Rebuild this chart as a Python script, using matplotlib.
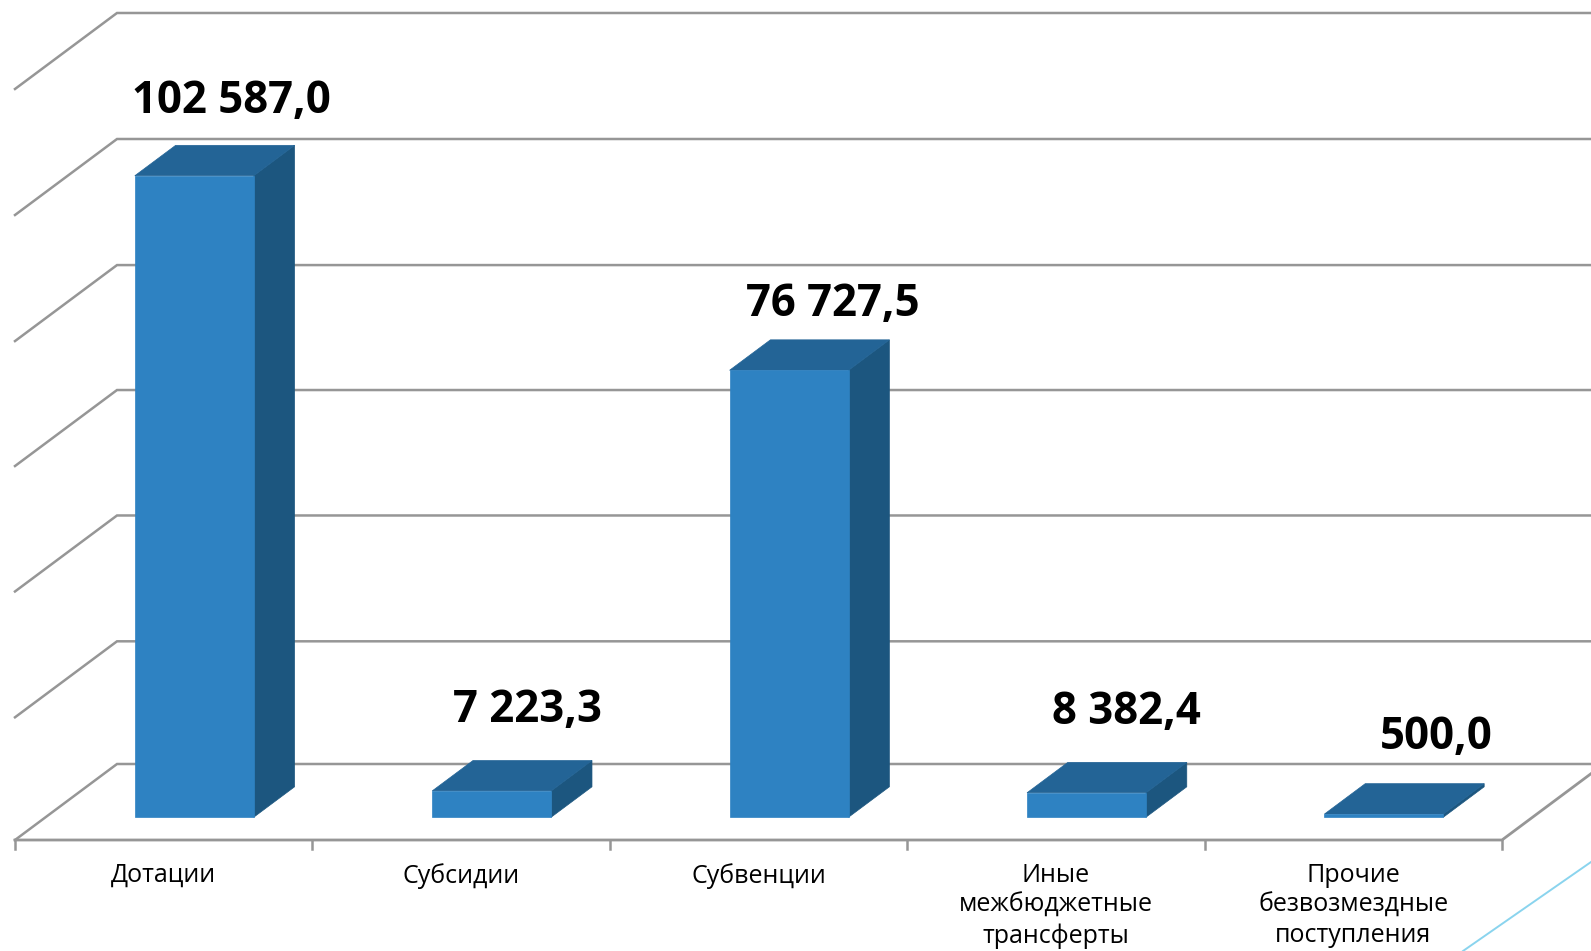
import matplotlib.pyplot as plt
from matplotlib.lines import Line2D

categories = ["Дотации", "Субсидии", "Субвенции", "Иные\nмежбюджетные\nтрансферты",
              "Прочие\nбезвозмездные\nпоступления"]
value_labels = ["102 587,0", "7 223,3", "76 727,5", "8 382,4", "500,0"]
# высоты столбцов (подписи на оригинале им не пропорциональны)
heights = [102470, 4200, 71400, 3900, 500]
grid_values = [0, 19600, 39700, 59740, 79700, 99840, 119970]

W, H = 1591, 951
PX_X = 297.4          # пикселей на одну категорию
PX_Y = 125.2 / 20000  # пикселей на единицу значения
X0, Y0 = 15, 840      # передний левый угол пола

# сдвиг по глубине (наклонная проекция)
DEPTH_X = 102 / PX_X
DEPTH_Y = 76 / PX_Y
BAR_FRONT, BAR_BACK = 0.3, 0.7
BAR_LEFT, BAR_RIGHT = 0.3, 0.7

FRONT = "#2E82C2"
TOP = "#236496"
SIDE = "#1C567F"
GRID = "#969696"


def pt(x, v, d):
    return x + d * DEPTH_X, v + d * DEPTH_Y


def face(ax, points, color):
    xs, ys = zip(*[pt(*p) for p in points])
    ax.fill(xs, ys, facecolor=color, edgecolor=color, linewidth=0.5, zorder=3)


fig = plt.figure(figsize=(W / 100, H / 100), dpi=100)
ax = fig.add_axes([0, 0, 1, 1])
ax.set_xlim(-X0 / PX_X, (W - X0) / PX_X)
ax.set_ylim(-(H - Y0) / PX_Y, Y0 / PX_Y)
ax.axis("off")

# стенки и сетка
for v in grid_values:
    xs, ys = zip(pt(0, v, 0), pt(0, v, 1), pt(5, v, 1))
    ax.plot(xs, ys, color=GRID, lw=1.8, solid_joinstyle="miter", zorder=1)

# пол и засечки
xs, ys = zip(pt(0, 0, 0), pt(5, 0, 0), pt(5, 0, 1))
ax.plot(xs, ys, color=GRID, lw=2.0, solid_joinstyle="miter", zorder=2)
for i in range(len(categories) + 1):
    ax.plot([i, i], [0, -9 / PX_Y], color=GRID, lw=1.8, zorder=2)

# столбцы
for i, h in enumerate(heights):
    l, r = i + BAR_LEFT, i + BAR_RIGHT
    f, b = BAR_FRONT, BAR_BACK
    face(ax, [(r, 0, f), (r, 0, b), (r, h, b), (r, h, f)], SIDE)
    face(ax, [(l, h, f), (r, h, f), (r, h, b), (l, h, b)], TOP)
    face(ax, [(l, 0, f), (r, 0, f), (r, h, f), (l, h, f)], FRONT)

# подписи значений
label_dx = [37, 36, 44, 40, 52]
label_dy = [44, 50, 35, 50, 46]
for i, (h, s) in enumerate(zip(heights, value_labels)):
    x, y = pt(i + 0.5, h, BAR_BACK)
    x0 = pt(i + 0.5, h, BAR_FRONT)[0]
    ax.annotate(s, (x0, y), xytext=(label_dx[i] * 0.72, label_dy[i] * 0.72),
                textcoords="offset points", ha="center", va="center",
                fontsize=31.5, fontweight="bold", family="Open Sans",
                color="black", zorder=5)

# подписи категорий
for i, c in enumerate(categories):
    ax.text(i + 0.5, -23 / PX_Y, c, ha="center", va="top", fontsize=18,
            family="Open Sans", color="black", linespacing=1.27, zorder=5)

# декоративная линия в углу
fig.add_artist(Line2D([1463 / W, 1.0], [0, 89 / H], color="#8AD4EE", lw=1.4))

fig.savefig("out.png", dpi=100)
